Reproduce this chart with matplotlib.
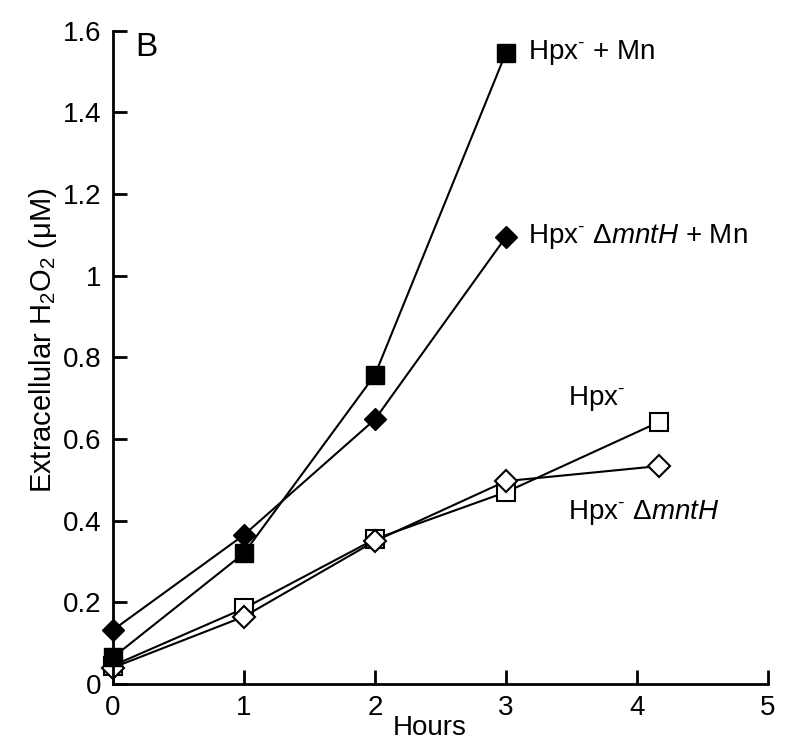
import matplotlib
matplotlib.use('Agg')
import matplotlib.pyplot as plt

plt.rcParams['font.family'] = ['Liberation Sans', 'DejaVu Sans']
plt.rcParams['mathtext.fontset'] = 'custom'
plt.rcParams['mathtext.rm'] = 'Liberation Sans'
plt.rcParams['mathtext.it'] = 'Liberation Sans:italic'
plt.rcParams['mathtext.default'] = 'regular'

# data
hours_mn = [0, 1, 2, 3]
hpx_mn = [0.065, 0.32, 0.757, 1.546]
hpx_mntH_mn = [0.132, 0.365, 0.648, 1.095]

hours = [0, 1, 2, 3, 4.17]
hpx = [0.045, 0.185, 0.355, 0.47, 0.642]
hpx_mntH = [0.04, 0.165, 0.35, 0.497, 0.534]

fig = plt.figure(figsize=(8, 7.52), dpi=100)
ax = fig.add_axes([0.141, 0.0904, 0.819, 0.8686])

ms = 13
ax.plot(hours, hpx, 'k-', lw=1.5, marker='s', ms=ms, mfc='white', mec='k', mew=1.5)
ax.plot(hours, hpx_mntH, 'k-', lw=1.5, marker='D', ms=ms - 2, mfc='white', mec='k', mew=1.5)
ax.plot(hours_mn, hpx_mn, 'k-', lw=1.5, marker='s', ms=ms, mfc='k', mec='k')
ax.plot(hours_mn, hpx_mntH_mn, 'k-', lw=1.5, marker='D', ms=ms - 2, mfc='k', mec='k')

fs = 20
sup = r'$^{\text{-}}$'
ax.text(3.17, 1.546, 'Hpx' + sup + ' + Mn', fontsize=fs, va='center')
ax.text(3.17, 1.095, 'Hpx' + sup + r' $\mathit{ΔmntH}$ + Mn', fontsize=fs, va='center')
ax.text(3.47, 0.70, 'Hpx' + sup, fontsize=fs, va='center')
ax.text(3.47, 0.42, 'Hpx' + sup + r' $\mathit{ΔmntH}$', fontsize=fs, va='center')
ax.text(0.17, 1.56, 'B', fontsize=24, va='center')

ax.set_xlim(0, 5)
ax.set_ylim(0, 1.6)
ax.set_xticks([0, 1, 2, 3, 4, 5])
ax.set_yticks([0, 0.2, 0.4, 0.6, 0.8, 1, 1.2, 1.4, 1.6])
ax.set_yticklabels(['0', '0.2', '0.4', '0.6', '0.8', '1', '1.2', '1.4', '1.6'])
ax.spines['top'].set_visible(False)
ax.spines['right'].set_visible(False)
ax.spines['left'].set_linewidth(2)
ax.spines['bottom'].set_linewidth(2)
ax.tick_params(direction='in', length=10, width=2, labelsize=20, pad=8)

ax.set_xlabel('Hours', fontsize=20)
ax.xaxis.set_label_coords(0.484, -0.048)
ax.set_ylabel(r'Extracellular H$_2$O$_2$ (μM)', fontsize=21)
ax.yaxis.set_label_coords(-0.082, 0.527)

for ln in ax.lines:
    ln.set_clip_on(False)

fig.savefig('out.png', dpi=100)
